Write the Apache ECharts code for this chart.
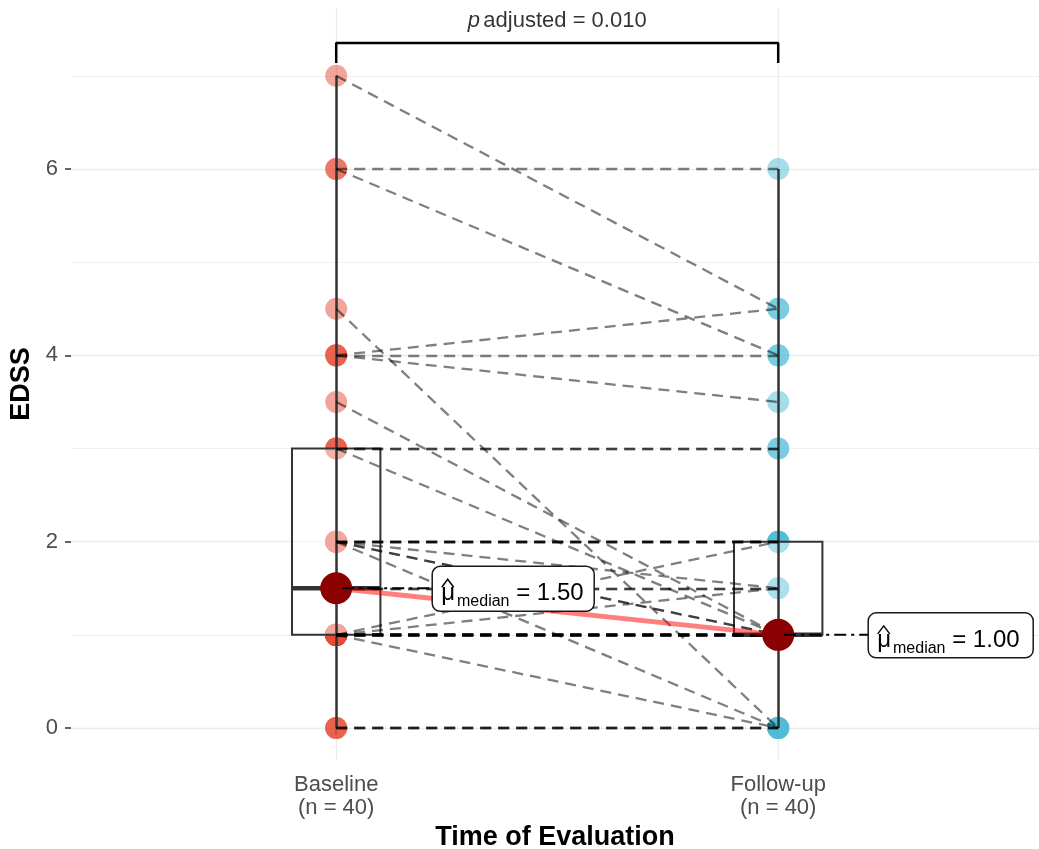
<!DOCTYPE html>
<html><head><meta charset="utf-8">
<script src="https://cdn.jsdelivr.net/npm/echarts@6/dist/echarts.min.js"></script>
<style>html,body{margin:0;padding:0;background:#fff}#c{width:1039px;height:849px}</style>
</head><body><div id="c"></div>
<script>
// ---------- data ----------
const categories = ['Baseline', 'Follow-up'];
const groupSizes = ['(n = 40)', '(n = 40)'];
const baseline = [7, 6, 6, 4.5, 4, 4, 4, 3.5, 3, 3, 3, 2, 2, 2, 2, 2, 2, 2, 2, 1.5, 1.5,
  1, 1, 1, 1, 1, 1, 1, 1, 1, 1, 1, 1, 1, 1, 1, 1, 0, 0, 0];
const followup = [4.5, 6, 4, 0, 4.5, 4, 3.5, 1, 3, 3, 1, 2, 2, 2, 2, 1.5, 1, 1, 0, 1.5, 1.5,
  2, 1.5, 0, 1, 1, 1, 1, 1, 1, 1, 1, 1, 1, 1, 1, 1, 0, 0, 0];
const yMajorTicks = [0, 2, 4, 6];
const yMinorTicks = [1, 3, 5, 7];
const xPositions = [1, 2];
const pText = 'adjusted = 0.010';
const medianLabels = ['1.50', '1.00'];

// ---------- style constants ----------
const FONT = '"Liberation Sans", Arial, Helvetica, sans-serif';
const BOX_HALF = 0.1;
const LABEL_OFF = [96, 90];     // px from median point to label box
const LABEL_W = [162, 165];
const LABEL_H = 45;
const BRACKET_Y = 7.352, BRACKET_TICK_Y = 7.137, P_TEXT_Y = 7.59;

function quantile(arr, p) {
  const s = [...arr].sort((a, b) => a - b);
  const h = (s.length - 1) * p, lo = Math.floor(h), hi = Math.ceil(h);
  return s[lo] + (h - lo) * (s[hi] - s[lo]);
}
const groups = [baseline, followup];
const stats = groups.map((g, i) => [xPositions[i], quantile(g, .25), quantile(g, .5), quantile(g, .75), Math.min(...g), Math.max(...g)]);

const chart = echarts.init(document.getElementById('c'), null, {renderer: 'canvas'});

const gridMarks = {
  z: 0, silent: true, symbol: 'none', label: {show: false},
  data: [
    ...yMajorTicks.map(v => ({yAxis: v, lineStyle: {color: '#EBEBEB', width: 1.3, type: 'solid'}})),
    ...yMinorTicks.map(v => ({yAxis: v, lineStyle: {color: '#F0F0F0', width: 1, type: 'solid'}})),
    ...xPositions.map(v => ({xAxis: v, lineStyle: {color: '#EBEBEB', width: 1.3, type: 'solid'}}))
  ]
};

const option = {
  animation: false,
  backgroundColor: '#fff',
  grid: {left: 71, right: 0, top: 8, bottom: 89, containLabel: false, outerBoundsMode: 'none'},
  xAxis: {
    type: 'value', min: 0.4, max: 2.59,
    splitLine: {show: false}, axisLine: {show: false},
    axisTick: {show: true, customValues: xPositions, length: 7, lineStyle: {color: '#333', width: 1.5}},
    axisLabel: {customValues: xPositions, margin: 13, color: '#4D4D4D', fontSize: 22, fontFamily: FONT, lineHeight: 23,
      formatter: v => { const i = xPositions.indexOf(v); return i < 0 ? '' : categories[i] + '\n' + groupSizes[i]; }},
    name: 'Time of Evaluation', nameLocation: 'middle', nameGap: 64,
    nameTextStyle: {fontSize: 27, fontWeight: 'bold', color: '#000', fontFamily: FONT}
  },
  yAxis: {
    type: 'value', min: -0.343, max: 7.728,
    splitLine: {show: false}, axisLine: {show: false},
    axisTick: {show: true, customValues: yMajorTicks, length: 6, lineStyle: {color: '#333', width: 1.5}},
    axisLabel: {customValues: yMajorTicks, margin: 13, color: '#4D4D4D', fontSize: 22, fontFamily: FONT},
    name: 'EDSS', nameLocation: 'middle', nameGap: 35,
    nameTextStyle: {fontSize: 27, fontWeight: 'bold', color: '#000', fontFamily: FONT}
  },
  series: [
    {type: 'line', data: [], z: 0, markLine: gridMarks},
    {type: 'scatter', z: 2, symbolSize: 22, silent: true,
      data: baseline.map(v => [xPositions[0], v]), itemStyle: {color: '#E64B35', opacity: 0.5}},
    {type: 'scatter', z: 2, symbolSize: 22, silent: true,
      data: followup.map(v => [xPositions[1], v]), itemStyle: {color: '#4DBBD5', opacity: 0.5}},
    {type: 'custom', z: 3, silent: true, data: stats,
      renderItem: (params, api) => {
        const x = api.value(0), q1 = api.value(1), med = api.value(2), q3 = api.value(3);
        const a = api.coord([x - BOX_HALF, q3]), b = api.coord([x + BOX_HALF, q1]);
        const m1 = api.coord([x - BOX_HALF, med]), m2 = api.coord([x + BOX_HALF, med]);
        return {type: 'group', children: [
          {type: 'rect', shape: {x: a[0], y: a[1], width: b[0] - a[0], height: b[1] - a[1]},
            style: {fill: 'rgba(255,255,255,0.5)', stroke: '#333', lineWidth: 2}},
          {type: 'line', shape: {x1: m1[0], y1: m1[1], x2: m2[0], y2: m2[1]},
            style: {stroke: '#333', lineWidth: 4.5}}
        ]};
      }},
    {type: 'lines', coordinateSystem: 'cartesian2d', z: 4, silent: true,
      data: stats.map(s => ({coords: [[s[0], s[4]], [s[0], s[5]]]})),
      lineStyle: {color: '#333', width: 2.5, opacity: 1, type: 'solid'}},
    {type: 'lines', coordinateSystem: 'cartesian2d', z: 5, silent: true,
      data: baseline.map((b, i) => ({coords: [[xPositions[0], b], [xPositions[1], followup[i]]]})),
      lineStyle: {color: '#000', opacity: 0.5, width: 2.3, type: [11, 7]}},
    {type: 'line', z: 6, silent: true, symbol: 'none',
      data: stats.map(s => [s[0], s[2]]), lineStyle: {color: 'rgba(255,0,0,0.5)', width: 5}},
    {type: 'scatter', z: 7, symbolSize: 32, silent: true,
      data: stats.map(s => [s[0], s[2]]), itemStyle: {color: '#8B0000', opacity: 1}},
    {type: 'custom', z: 9, silent: true, data: stats.map(s => [s[0], s[2]]),
      renderItem: (params, api) => {
        const i = params.dataIndex;
        const p = api.coord([api.value(0), api.value(1)]);
        const bx = p[0] + LABEL_OFF[i], bw = LABEL_W[i], bh = LABEL_H, by = p[1] - bh / 2 + 0.5;
        return {type: 'group', children: [
          {type: 'line', shape: {x1: p[0] + 6, y1: p[1], x2: bx, y2: p[1]},
            style: {stroke: '#000', lineWidth: 2, lineDash: [12, 5, 3, 5]}},
          {type: 'rect', shape: {x: bx, y: by, width: bw, height: bh, r: 8},
            style: {fill: '#fff', stroke: '#1a1a1a', lineWidth: 1.5}},
          {type: 'text', style: {x: bx + 9, y: by + bh / 2 + 2, align: 'left', verticalAlign: 'middle',
            text: '{mu|μ}{sub|median}{eq| = ' + medianLabels[i] + '}',
            rich: {
              mu: {fontSize: 24, fontFamily: FONT, fill: '#000', lineHeight: 30, verticalAlign: 'bottom'},
              sub: {fontSize: 16, fontFamily: FONT, fill: '#000', lineHeight: 30, verticalAlign: 'bottom', padding: [0, 0, -4, 2]},
              eq: {fontSize: 24, fontFamily: FONT, fill: '#000', lineHeight: 30, verticalAlign: 'bottom'}
            }}},
          {type: 'polyline', shape: {points: [[bx + 9.5, by + 21], [bx + 15.5, by + 13], [bx + 21.5, by + 21]]},
            style: {stroke: '#000', lineWidth: 1.4, fill: null}}
        ]};
      }},
    {type: 'line', z: 9, silent: true, symbol: 'none',
      data: [[xPositions[0], BRACKET_TICK_Y], [xPositions[0], BRACKET_Y], [xPositions[1], BRACKET_Y], [xPositions[1], BRACKET_TICK_Y]],
      lineStyle: {color: '#000', width: 2.5}},
    {type: 'scatter', z: 9, symbolSize: 0, silent: true,
      data: [[(xPositions[0] + xPositions[1]) / 2, P_TEXT_Y]],
      label: {show: true, position: 'inside', formatter: '{it|p} {n|' + pText + '}',
        rich: {it: {fontStyle: 'italic', fontSize: 22, fontFamily: FONT, color: '#000'},
               n: {fontSize: 22, fontFamily: FONT, color: '#000'}}}}
  ]
};
chart.setOption(option);
</script></body></html>
